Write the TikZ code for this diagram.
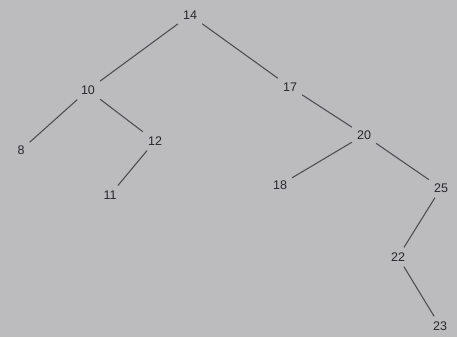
\documentclass[tikz,border=0pt]{standalone}
\usepackage{fontspec}
\setmainfont{Liberation Sans}
\definecolor{bg}{RGB}{188,188,190}
\definecolor{ink}{RGB}{40,40,44}
\definecolor{edge}{RGB}{80,80,84}
\begin{document}
\begin{tikzpicture}[x=1pt,y=-1pt,
  key/.style={inner sep=5pt,text=ink,font=\fontsize{12.5}{14}\selectfont},
  link/.style={draw=edge,line width=1.1pt}]
\fill[bg] (0,0) rectangle (457,337);
\useasboundingbox (0,0) rectangle (457,337);
\node[key] (n14) at (190,15) {14};
\node[key] (n10) at (88,90) {10};
\node[key] (n8) at (21,150) {8};
\node[key] (n12) at (155,141) {12};
\node[key] (n11) at (110,195) {11};
\node[key] (n17) at (290,87) {17};
\node[key] (n20) at (364,135) {20};
\node[key] (n18) at (280,185) {18};
\node[key] (n25) at (441,188) {25};
\node[key] (n22) at (398,257) {22};
\node[key] (n23) at (440,326) {23};
\draw[link] (n14) -- (n10);
\draw[link] (n14) -- (n17);
\draw[link] (n10) -- (n8);
\draw[link] (n10) -- (n12);
\draw[link] (n12) -- (n11);
\draw[link] (n17) -- (n20);
\draw[link] (n20) -- (n18);
\draw[link] (n20) -- (n25);
\draw[link] (n25) -- (n22);
\draw[link] (n22) -- (n23);
\end{tikzpicture}
\end{document}
